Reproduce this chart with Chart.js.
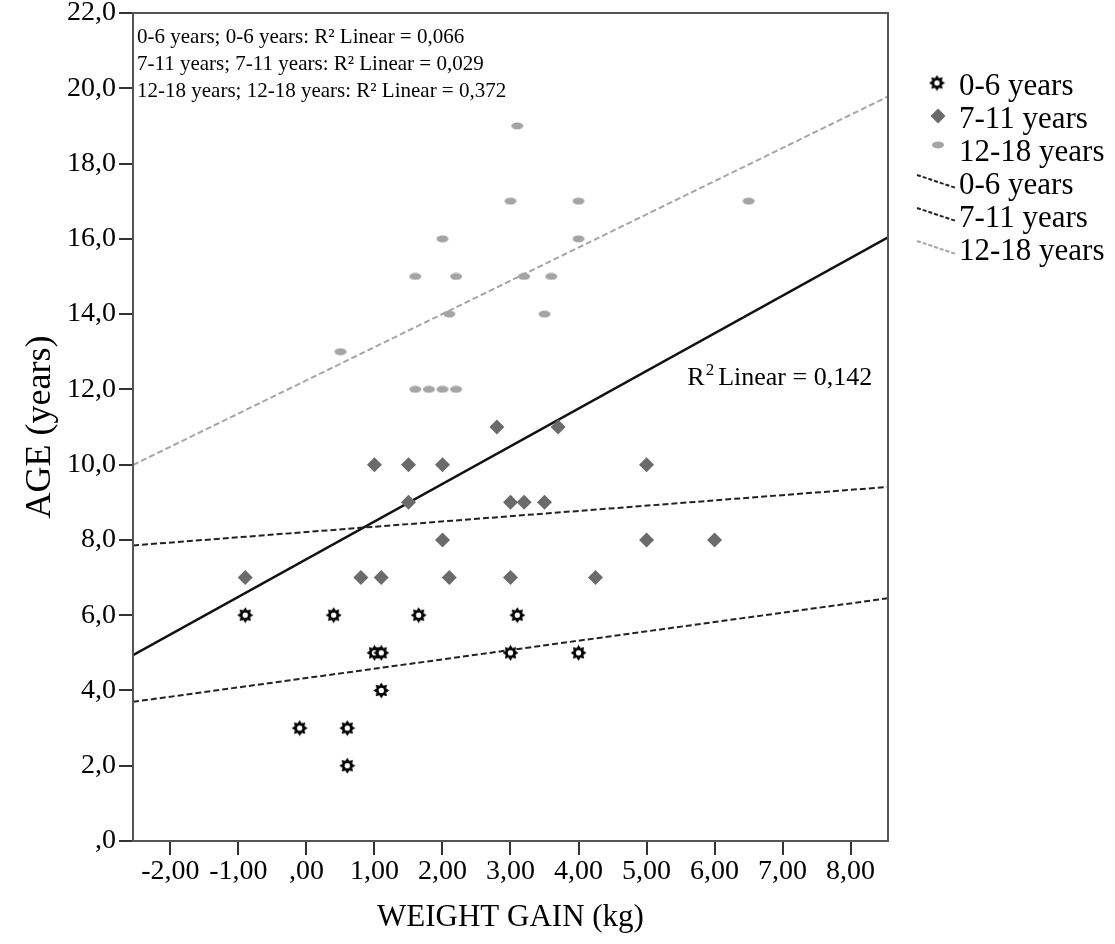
<!DOCTYPE html>
<html lang="en">
<head>
  <meta charset="UTF-8">
  <title>Age x Weight gain</title>
  <script src="https://cdn.jsdelivr.net/npm/chart.js"></script>
  <style>
    body {
      margin: 0;
      background: #fff;
    }
    #grafico {
      display: block;
    }
  </style>
</head>
<body>
  <canvas id="grafico" width="1115" height="944"></canvas>

  <script>
    // grupos e dados
    const grupos = ['0-6 years', '7-11 years', '12-18 years'];

    const ganho06 = [-0.9, -0.1, 0.4, 0.6, 0.6, 1.0, 1.1, 1.1, 1.65, 3.0, 3.1, 4.0];
    const idade06 = [6, 3, 6, 3, 2, 5, 5, 4, 6, 5, 6, 5];

    const ganho711 = [-0.9, 0.8, 1.1, 1.0, 1.5, 2.0, 1.5, 2.0, 2.1, 2.8, 3.0, 3.2, 3.5, 3.0, 3.7, 5.0, 5.0, 6.0, 4.25];
    const idade711 = [7, 7, 7, 10, 10, 10, 9, 8, 7, 11, 9, 9, 9, 7, 11, 10, 8, 8, 7];

    const ganho1218 = [0.5, 1.6, 2.2, 2.0, 2.1, 1.6, 1.8, 2.0, 2.2, 3.1, 3.0, 4.0, 4.0, 3.2, 3.6, 3.5, 6.5];
    const idade1218 = [13, 15, 15, 16, 14, 12, 12, 12, 12, 19, 17, 17, 16, 15, 15, 14, 17];

    // retas de ajuste (intercepto, inclinacao) por grupo e total
    const interceptos = [4.33, 8.21, 12.24];
    const inclinacoes = [0.248, 0.140, 0.882];
    const r2Grupos = ['0,066', '0,029', '0,372'];
    const ajusteTotal = [7.49, 1.0];
    const r2Total = '0,142';

    // eixos
    const xTicks = [-2, -1, 0, 1, 2, 3, 4, 5, 6, 7, 8];
    const yTicks = [0, 2, 4, 6, 8, 10, 12, 14, 16, 18, 20, 22];
    const xMin = -2.55, xMax = 8.55;

    const fonte = '"Liberation Serif", "Times New Roman", serif';

    function pontos(xs, ys) {
      return xs.map((x, i) => ({ x: x, y: ys[i] }));
    }

    function reta(a, b) {
      return [{ x: xMin, y: a + b * xMin }, { x: xMax, y: a + b * xMax }];
    }

    function formatoSpss(v, casas) {
      let s = Math.abs(v).toFixed(casas).replace('.', ',');
      if (s.startsWith('0')) s = s.slice(1);
      return (v < 0 ? '-' : '') + s;
    }

    // simbolo do grupo 0-6
    function criarEstrela() {
      const c = document.createElement('canvas');
      c.width = 17; c.height = 17;
      const g = c.getContext('2d');
      g.fillStyle = '#000';
      g.beginPath();
      for (let i = 0; i < 16; i++) {
        const r = i % 2 === 0 ? 8 : 5.2;
        const a = Math.PI * i / 8 - Math.PI / 2;
        const px = 8.5 + r * Math.cos(a), py = 8.5 + r * Math.sin(a);
        if (i === 0) g.moveTo(px, py); else g.lineTo(px, py);
      }
      g.closePath();
      g.fill();
      g.fillStyle = '#fff';
      g.beginPath();
      g.arc(8.5, 8.5, 2.7, 0, Math.PI * 2);
      g.fill();
      return c;
    }

    // simbolo do grupo 12-18
    function criarElipse() {
      const c = document.createElement('canvas');
      c.width = 14; c.height = 8;
      const g = c.getContext('2d');
      g.fillStyle = '#a4a4a4';
      g.beginPath();
      g.ellipse(7, 4, 6, 3.4, 0, 0, Math.PI * 2);
      g.fill();
      return c;
    }

    const estrela = criarEstrela();
    const elipse = criarElipse();
    const corLosango = '#6b6b6b';
    const coresRetas = ['#222', '#222', '#a6a6a6'];

    const decoracoes = {
      id: 'decoracoes',
      afterDraw(chart) {
        const ctx = chart.ctx;
        const a = chart.chartArea;
        const sx = chart.scales.x, sy = chart.scales.y;
        ctx.save();

        // moldura
        ctx.strokeStyle = '#555';
        ctx.lineWidth = 2;
        ctx.strokeRect(a.left, a.top, a.right - a.left, a.bottom - a.top);

        // texto R2 dos grupos
        ctx.fillStyle = '#000';
        ctx.textBaseline = 'middle';
        ctx.textAlign = 'left';
        ctx.font = '21px ' + fonte;
        grupos.forEach((g, i) => {
          ctx.fillText(g + '; ' + g + ': R\u00B2 Linear = ' + r2Grupos[i], 137, 37 + i * 27);
        });

        // R2 total junto da reta
        const rx = sx.getPixelForValue(5.6), ry = sy.getPixelForValue(12.3);
        ctx.font = '26px ' + fonte;
        ctx.fillText('R', rx, ry);
        let w = ctx.measureText('R').width;
        ctx.font = '17px ' + fonte;
        ctx.fillText('2', rx + w + 1, ry - 8);
        w += ctx.measureText('2').width + 5;
        ctx.font = '26px ' + fonte;
        ctx.fillText('Linear = ' + r2Total, rx + w, ry);

        // legenda
        const lx = 959;
        const linhas = [87, 120, 153, 186, 219, 252];
        ctx.font = '31px ' + fonte;
        ctx.drawImage(estrela, 937 - 8.5, linhas[0] - 4 - 8.5);
        ctx.fillStyle = corLosango;
        ctx.beginPath();
        ctx.moveTo(938 - 7.5, linhas[1] - 4);
        ctx.lineTo(938, linhas[1] - 11.5);
        ctx.lineTo(938 + 7.5, linhas[1] - 4);
        ctx.lineTo(938, linhas[1] + 3.5);
        ctx.closePath();
        ctx.fill();
        ctx.drawImage(elipse, 938 - 7, linhas[2] - 8 - 4);
        ctx.lineWidth = 2;
        ctx.setLineDash([4, 2]);
        for (let i = 0; i < 3; i++) {
          const yy = linhas[3 + i];
          ctx.strokeStyle = coresRetas[i];
          ctx.beginPath();
          ctx.moveTo(917, yy - 11);
          ctx.lineTo(956, yy + 2);
          ctx.stroke();
        }
        ctx.setLineDash([]);
        ctx.fillStyle = '#000';
        const textos = grupos.concat(grupos);
        textos.forEach((t, i) => ctx.fillText(t, lx, linhas[i]));

        ctx.restore();
      }
    };

    const ctx = document.getElementById('grafico').getContext('2d');

    new Chart(ctx, {
      type: 'scatter',
      data: {
        datasets: [
          {
            label: grupos[0],
            data: pontos(ganho06, idade06),
            pointStyle: estrela,
            pointRadius: 8,
            order: 1
          },
          {
            label: grupos[1],
            data: pontos(ganho711, idade711),
            pointStyle: 'rectRot',
            pointRadius: 7.5,
            pointBorderWidth: 0,
            backgroundColor: corLosango,
            borderColor: corLosango,
            order: 2
          },
          {
            label: grupos[2],
            data: pontos(ganho1218, idade1218),
            pointStyle: elipse,
            pointRadius: 6,
            order: 3
          },
          {
            label: grupos[0] + ' fit',
            data: reta(interceptos[0], inclinacoes[0]),
            showLine: true,
            borderColor: coresRetas[0],
            borderWidth: 2,
            borderDash: [6, 3],
            pointRadius: 0,
            order: 4
          },
          {
            label: grupos[1] + ' fit',
            data: reta(interceptos[1], inclinacoes[1]),
            showLine: true,
            borderColor: coresRetas[1],
            borderWidth: 2,
            borderDash: [6, 3],
            pointRadius: 0,
            order: 4
          },
          {
            label: grupos[2] + ' fit',
            data: reta(interceptos[2], inclinacoes[2]),
            showLine: true,
            borderColor: coresRetas[2],
            borderWidth: 2,
            borderDash: [6, 3],
            pointRadius: 0,
            order: 4
          },
          {
            label: 'Total fit',
            data: reta(ajusteTotal[0], ajusteTotal[1]),
            showLine: true,
            borderColor: '#111',
            borderWidth: 2.5,
            pointRadius: 0,
            order: 4
          }
        ]
      },
      options: {
        responsive: false,
        animation: false,
        devicePixelRatio: 1,
        layout: {
          padding: { top: 13, right: 227, left: 0, bottom: 0 }
        },
        plugins: {
          legend: { display: false },
          tooltip: { enabled: false }
        },
        scales: {
          x: {
            type: 'linear',
            min: xMin,
            max: xMax,
            afterBuildTicks: s => { s.ticks = xTicks.map(v => ({ value: v })); },
            afterFit: s => { s.height = 103; s.paddingLeft = 0; s.paddingRight = 0; },
            grid: {
              drawOnChartArea: false,
              drawTicks: true,
              tickLength: 14,
              color: '#333',
              lineWidth: 2
            },
            border: { display: false },
            ticks: {
              padding: 0,
              color: '#000',
              maxRotation: 0,
              autoSkip: false,
              font: { family: fonte, size: 28 },
              callback: v => formatoSpss(v, 2)
            },
            title: {
              display: true,
              text: 'WEIGHT GAIN (kg)',
              color: '#000',
              font: { family: fonte, size: 31 },
              padding: { top: 0, bottom: 8 }
            }
          },
          y: {
            min: 0,
            max: 22,
            afterBuildTicks: s => { s.ticks = yTicks.map(v => ({ value: v })); },
            afterFit: s => { s.width = 133; s.paddingTop = 0; s.paddingBottom = 0; },
            grid: {
              drawOnChartArea: false,
              drawTicks: true,
              tickLength: 14,
              color: '#333',
              lineWidth: 2
            },
            border: { display: false },
            ticks: {
              padding: 3,
              color: '#000',
              autoSkip: false,
              font: { family: fonte, size: 28 },
              callback: v => formatoSpss(v, 1)
            },
            title: {
              display: true,
              text: 'AGE (years)',
              color: '#000',
              font: { family: fonte, size: 36 },
              padding: { top: 19, bottom: 0 }
            }
          }
        }
      },
      plugins: [decoracoes]
    });
  </script>
</body>
</html>
